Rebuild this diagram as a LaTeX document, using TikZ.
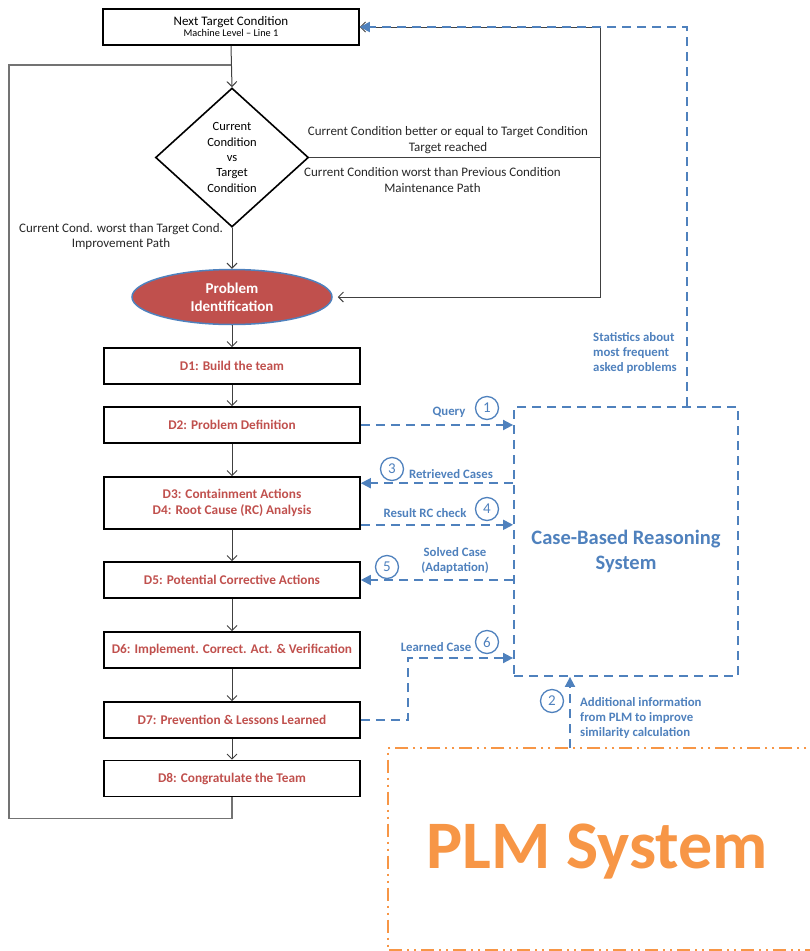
\documentclass[tikz,border=0pt]{standalone}
\usepackage{fontspec}
\setmainfont{Carlito}
\usetikzlibrary{arrows.meta,calc,shapes.geometric}
\definecolor{redtext}{HTML}{C0504D}
\definecolor{cbrblue}{HTML}{4F81BD}
\definecolor{plmorange}{HTML}{F79646}
\definecolor{lineGrey}{HTML}{404040}

\tikzset{
	dstep/.style={draw, line width=1.6pt, minimum width=256pt, minimum height=36pt, inner sep=0pt, align=center, text=redtext, font=\fontsize{13.3}{15.5}\selectfont\bfseries},
	flow/.style={draw=lineGrey, line width=1pt, -{Straight Barb[length=5pt,width=10pt]}},
	loopline/.style={draw=black!55, line width=1.2pt},
	cbrline/.style={draw=cbrblue, line width=1.8pt, dash pattern=on 9pt off 6pt},
	cbrarrow/.style={cbrline, -{Triangle[length=10pt,width=10pt]}},
	plmline/.style={draw=plmorange, line width=2.5pt, dash pattern=on 13pt off 5pt on 2pt off 5pt on 2pt off 5pt},
	numcirc/.style={circle, draw=cbrblue, line width=1.3pt, text=cbrblue, minimum size=23pt, inner sep=0pt, font=\fontsize{15}{15}\selectfont},
	cbrlabel/.style={text=cbrblue, font=\fontsize{12.8}{15}\selectfont\bfseries, align=center, inner sep=0pt},
	condlabel/.style={text=black!85, font=\fontsize{13}{15.5}\selectfont, align=center, inner sep=0pt},
}

\begin{document}
\begin{tikzpicture}[x=1pt, y=-1pt]
	\useasboundingbox (0,0) rectangle (810,951);
	\clip (0,0) rectangle (810,951);
	\node[draw, line width=1.6pt, minimum width=256pt, minimum height=36pt, inner sep=0pt, align=center] (next) at (231,27) {\fontsize{13}{13}\selectfont Next Target Condition\\[-1pt]\fontsize{10.3}{11}\selectfont Machine Level -- Line 1};
	\node[diamond, draw, line width=1.6pt, minimum width=153pt, minimum height=139pt, inner sep=0pt, align=center, font=\fontsize{12.5}{15.3}\selectfont] (cond) at (232,157.5) {Current\\Condition\\vs\\Target\\Condition};
	\node[ellipse, draw=cbrblue, fill=redtext, line width=1.5pt, minimum width=200pt, minimum height=55pt, inner sep=0pt, align=center, text=white, font=\fontsize{15}{18}\selectfont\bfseries] (pid) at (232,297) {Problem\\Identification};

	\node[dstep] (d1) at (232,366) {D1: Build the team};
	\node[dstep] (d2) at (232,425) {D2: Problem Definition};
	\node[dstep, minimum height=52pt] (d3) at (232,503) {D3: Containment Actions\\D4: Root Cause (RC) Analysis};
	\node[dstep] (d5) at (232,580) {D5: Potential Corrective Actions};
	\node[dstep] (d6) at (232,650) {D6: Implement. Correct. Act. \& Verification};
	\node[dstep] (d7) at (232,720) {D7: Prevention \& Lessons Learned};
	\node[dstep] (d8) at (232,778.5) {D8: Congratulate the Team};

	\node[condlabel] (lbreach) at (448,140) {Current Condition better or equal to Target Condition\\Target reached};
	\node[condlabel] (lbmaint) at (432.5,180) {Current Condition worst than Previous Condition\\Maintenance Path};
	\node[condlabel] (lbimpr) at (121,236.5) {Current Cond. worst than Target Cond.\\Improvement Path};

	\path (next.south) edge[flow] (cond.north)
		(cond.south) edge[flow] (pid.north)
		(pid.south) edge[flow] (d1.north)
		(d1.south) edge[flow] (d2.north)
		(d2.south) edge[flow] (d3.north)
		(d3.south) edge[flow] (d5.north)
		(d5.south) edge[flow] (d6.north)
		(d6.south) edge[flow] (d7.north)
		(d7.south) edge[flow] (d8.north);

	\coordinate (rx) at (600,0);
	\coordinate (lx) at (9,65);
	\draw[lineGrey, line width=1pt] (cond.east) -- (cond.east -| rx);
	\draw[flow] (cond.east -| rx) |- (next.east);
	\draw[flow, shorten >=5pt] (cond.east -| rx) |- (pid.east);
	\draw[loopline] (d8.south) -- ++(0,21) -| (lx) -- (lx -| next.south);

	\node[cbrline, minimum width=224pt, minimum height=269pt, inner sep=0pt] (cbr) at (626,541.5) {};
	\node[text=cbrblue, font=\fontsize{20.5}{25}\selectfont\bfseries, align=center] (cbrtitle) at (626,551) {Case-Based Reasoning\\System};
	\node[minimum width=500pt, minimum height=202pt, inner sep=0pt, anchor=north west] (plm) at (388,748) {};
	\draw[plmline] (plm.north east) -- (plm.north west) -- (plm.south west) -- (plm.south east);
	\node[text=plmorange, font=\fontsize{68}{68}\selectfont\bfseries, anchor=base] (plmtitle) at (597,868) {PLM System};

	\coordinate (sx) at (687,0);
	\coordinate (px) at (570,0);
	\coordinate (lx7) at (408,0);
	\coordinate (ly6) at (0,658);
	\coordinate (d3in) at ($(d3.north east)+(0,7)$);
	\coordinate (d3out) at ($(d3.south east)+(0,-5)$);
	\draw[cbrarrow] (cbr.north -| sx) |- (next.east);
	\draw[cbrarrow] (d2.east) -- (d2.east -| cbr.west);
	\draw[cbrarrow] (cbr.west |- d3in) -- (d3in);
	\draw[cbrarrow] (d3out) -- (d3out -| cbr.west);
	\draw[cbrarrow] (cbr.west |- d5.east) -- (d5.east);
	\draw[cbrarrow] (d7.east) -| (lx7 |- ly6) -- (ly6 -| cbr.west);
	\draw[cbrarrow] (plm.north -| px) -- (cbr.south -| px);

	\node[cbrlabel] (lquery) at (449,412) {Query};
	\node[numcirc] (n1) at (487,408) {1};
	\node[numcirc] (n3) at (392,469) {3};
	\node[cbrlabel] (lretr) at (451,474) {Retrieved Cases};
	\node[cbrlabel] (lrc) at (425,513) {Result RC check};
	\node[numcirc] (n4) at (487,509) {4};
	\node[numcirc] (n5) at (387,567) {5};
	\node[cbrlabel] (lsolved) at (455,561) {Solved Case\\(Adaptation)};
	\node[cbrlabel] (llearn) at (436,647) {Learned Case};
	\node[numcirc] (n6) at (487,642) {6};
	\node[numcirc] (n2) at (552,701) {2};
	\node[cbrlabel, align=left, anchor=west] (ladd) at (580,718) {Additional information\\from PLM to improve\\similarity calculation};
	\node[cbrlabel, align=left, anchor=west] (lstat) at (593,353) {Statistics about\\most frequent\\asked problems};
\end{tikzpicture}
\end{document}
